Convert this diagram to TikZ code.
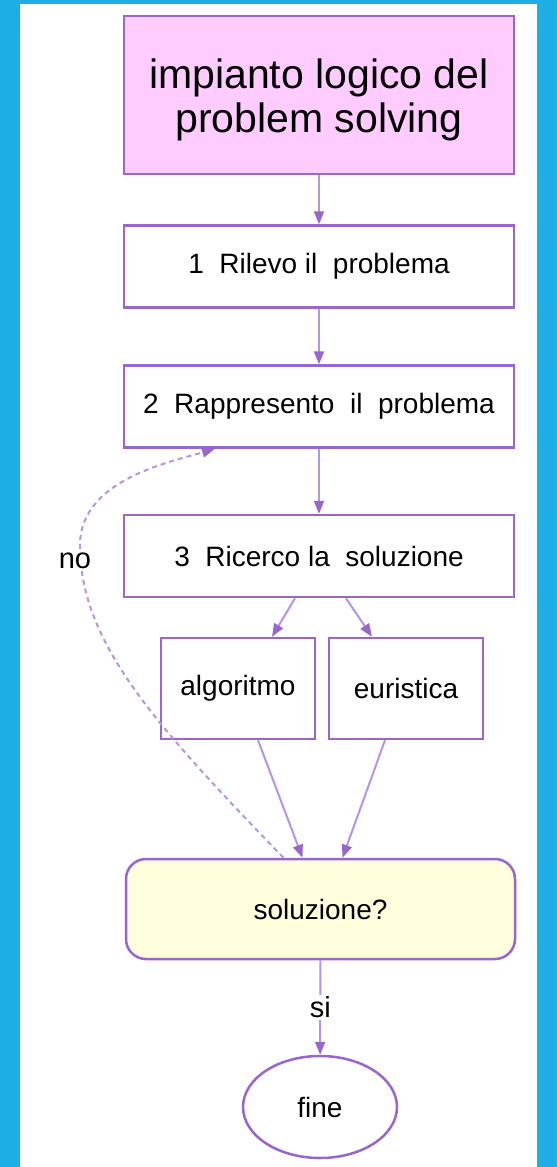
\documentclass[tikz,border=0pt]{standalone}
\usepackage{fontspec}
\setmainfont{Liberation Sans}
\usetikzlibrary{arrows.meta, calc, shapes.geometric}
\definecolor{bgblue}{HTML}{1EAEE6}
\definecolor{boxline}{HTML}{9966CC}
\definecolor{linkline}{HTML}{B794DE}
\definecolor{titlefill}{HTML}{FFCCFF}
\definecolor{solfill}{HTML}{FFFFDD}

\begin{document}
\begin{tikzpicture}[x=1pt, y=-1pt,
  stepbox/.style={draw=boxline, line width=2.5pt, fill=white, inner sep=0pt,
    minimum width=390pt, minimum height=82pt, font=\fontsize{28}{32}\selectfont},
  choicebox/.style={stepbox, minimum width=154pt, minimum height=101pt},
  link/.style={draw=linkline, line width=2pt,
    -{Triangle[length=13pt, width=10pt, color=boxline]}},
  lbl/.style={fill=white, inner sep=2pt, font=\fontsize{29}{32}\selectfont}]
\useasboundingbox (0,0) rectangle (557,1167);
\fill[bgblue] (0,0) rectangle (557,1167);
\fill[white] (20,4) rectangle (537,1167);

\node[stepbox, fill=titlefill, minimum height=158pt, align=center,
  font=\fontsize{41}{44}\selectfont] at (319,95) (title)
  {\rule{0pt}{40pt}impianto logico del\\problem solving};
\node[stepbox] at (319,266.5) (s1) {1~~Rilevo il~~problema};
\node[stepbox] at (319,406.5) (s2) {2~~Rappresento~~il~~problema};
\node[stepbox] at (319,556) (s3) {3~~Ricerco~la~~soluzione};
\node[choicebox] at (238,688.5) (algo) {algoritmo};
\node[choicebox] at (406,688.5) (euri) {euristica};
\node[stepbox, fill=solfill, rounded corners=20pt, minimum width=389pt,
  minimum height=100pt] at (320.5,909) (sol) {soluzione?};
\node[stepbox, ellipse, minimum width=154pt, minimum height=102pt]
  at (320,1107) (fine) {fine};

\draw[link] (title) -- (s1);
\draw[link] (s1) -- (s2);
\draw[link] (s2) -- (s3);
\draw[link] ([xshift=-24pt]s3.south) -- ([xshift=34pt]algo.north);
\draw[link] ([xshift=27pt]s3.south) -- ([xshift=-34pt]euri.north);
\draw[link] ([xshift=20pt]algo.south) -- ([xshift=-18pt]sol.north);
\draw[link] ([xshift=-21pt]euri.south) -- ([xshift=22pt]sol.north);
\draw[link, dash pattern=on 5pt off 4pt] ([xshift=-37pt]sol.north)
  .. controls (150,720) and (80,640) .. (80,545)
  .. controls (80,480) and (170,462) .. ([xshift=-104pt]s2.south);
\node[lbl] at (75,561) (no) {no};
\draw[link] (sol) -- node[lbl] (si) {si} (fine);
\end{tikzpicture}
\end{document}
